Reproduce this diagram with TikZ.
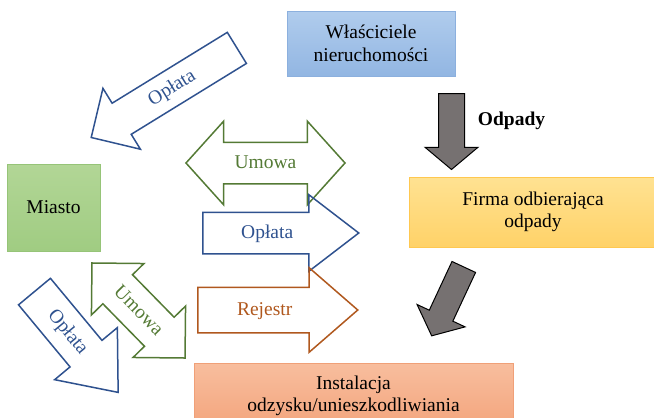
\documentclass[tikz,border=0pt]{standalone}
\usepackage{fontspec}
\setmainfont{Liberation Serif}
\usetikzlibrary{shapes.arrows}

\definecolor{lineblue}{RGB}{47,82,143}
\definecolor{linegreen}{RGB}{84,122,53}
\definecolor{linebrown}{RGB}{176,88,30}
\definecolor{flowgrey}{RGB}{118,113,113}
\newcommand{\diagfont}{\fontsize{19.5}{22.5}\selectfont}

\begin{document}
\begin{tikzpicture}[x=1pt,y=1pt]
\tikzstyle{every node}+=[inner sep=0pt, font=\diagfont]
\tikzset{
  box/.style={rectangle, align=center, line width=0.8pt},
  outarrow/.style={single arrow, draw=#1, text=#1, line width=1.5pt, minimum width=0pt},
  twoarrow/.style={double arrow, draw=#1, text=#1, line width=1.5pt, minimum width=0pt},
  flowarrow/.style={single arrow, draw=black, fill=flowgrey, line width=1pt, text height=12.5pt, text depth=12.5pt, single arrow head extend=13.5pt, single arrow tip angle=100, minimum width=0pt, minimum height=76pt}
}
\useasboundingbox (0,0) rectangle (654,-418);
\node[box, top color={rgb,255:red,176;green,204;blue,237}, bottom color={rgb,255:red,146;green,182;blue,226}, draw={rgb,255:red,140;green,176;blue,222}, minimum width=168pt, minimum height=65pt] (owners) at (371,-43.5) {Właściciele\\nieruchomości};
\node[box, top color={rgb,255:red,255;green,226;blue,146}, bottom color={rgb,255:red,255;green,210;blue,104}, draw={rgb,255:red,255;green,200;blue,80}, minimum width=248pt, minimum height=70pt] (firm) at (533,-212) {Firma odbierająca\\odpady};
\node[box, top color={rgb,255:red,248;green,190;blue,158}, bottom color={rgb,255:red,243;green,164;blue,124}, draw={rgb,255:red,240;green,160;blue,120}, minimum width=319pt, minimum height=66pt] (plant) at (353.5,-396) {Instalacja\\odzysku/unieszkodliwiania};
\node[box, top color={rgb,255:red,178;green,214;blue,150}, bottom color={rgb,255:red,160;green,204;blue,130}, draw={rgb,255:red,150;green,196;blue,120}, minimum width=93pt, minimum height=87pt] (city) at (53.5,-207.5) {Miasto};

\node[flowarrow, rotate=-90, anchor=tail] (wasteDown) at (451.5,-93) {};
\node[font=\diagfont\bfseries] (wasteLbl) at (511.5,-121) {Odpady};
\node[flowarrow, rotate=245, anchor=tail] (wasteDiag) at (464,-266.5) {};

\node[outarrow=lineblue, rotate=31.6, shape border rotate=180, anchor=tail, minimum height=171pt, text height=23pt, text depth=12pt, single arrow head extend=17.5pt, single arrow tip angle=90] (feeTop) at (237.5,-47.5) {Opłata};
\node[twoarrow=linegreen, minimum height=159pt, text height=25.5pt, text depth=14.5pt, double arrow head extend=21pt, double arrow tip angle=96] (dealTop) at (265.5,-163) {Umowa};
\node[outarrow=lineblue, anchor=tail, minimum height=156pt, text height=25.5pt, text depth=14.5pt, single arrow head extend=17.5pt, single arrow tip angle=75] (feeMid) at (202,-233) {Opłata};
\node[outarrow=linebrown, anchor=tail, minimum height=160pt, text height=27.5pt, text depth=16.5pt, single arrow head extend=19.5pt, single arrow tip angle=82] (register) at (197,-310) {Rejestr};
\node[outarrow=lineblue, rotate=-50.3, anchor=tail, minimum height=131pt, text height=25.5pt, text depth=14.5pt, single arrow head extend=20pt, single arrow tip angle=78] (feeLow) at (34,-291) {Opłata};
\node[twoarrow=linegreen, rotate=-45.6, minimum height=133pt, text height=25.5pt, text depth=14.5pt, double arrow head extend=16pt, double arrow tip angle=90] (dealLow) at (138.5,-310.5) {Umowa};
\end{tikzpicture}
\end{document}
